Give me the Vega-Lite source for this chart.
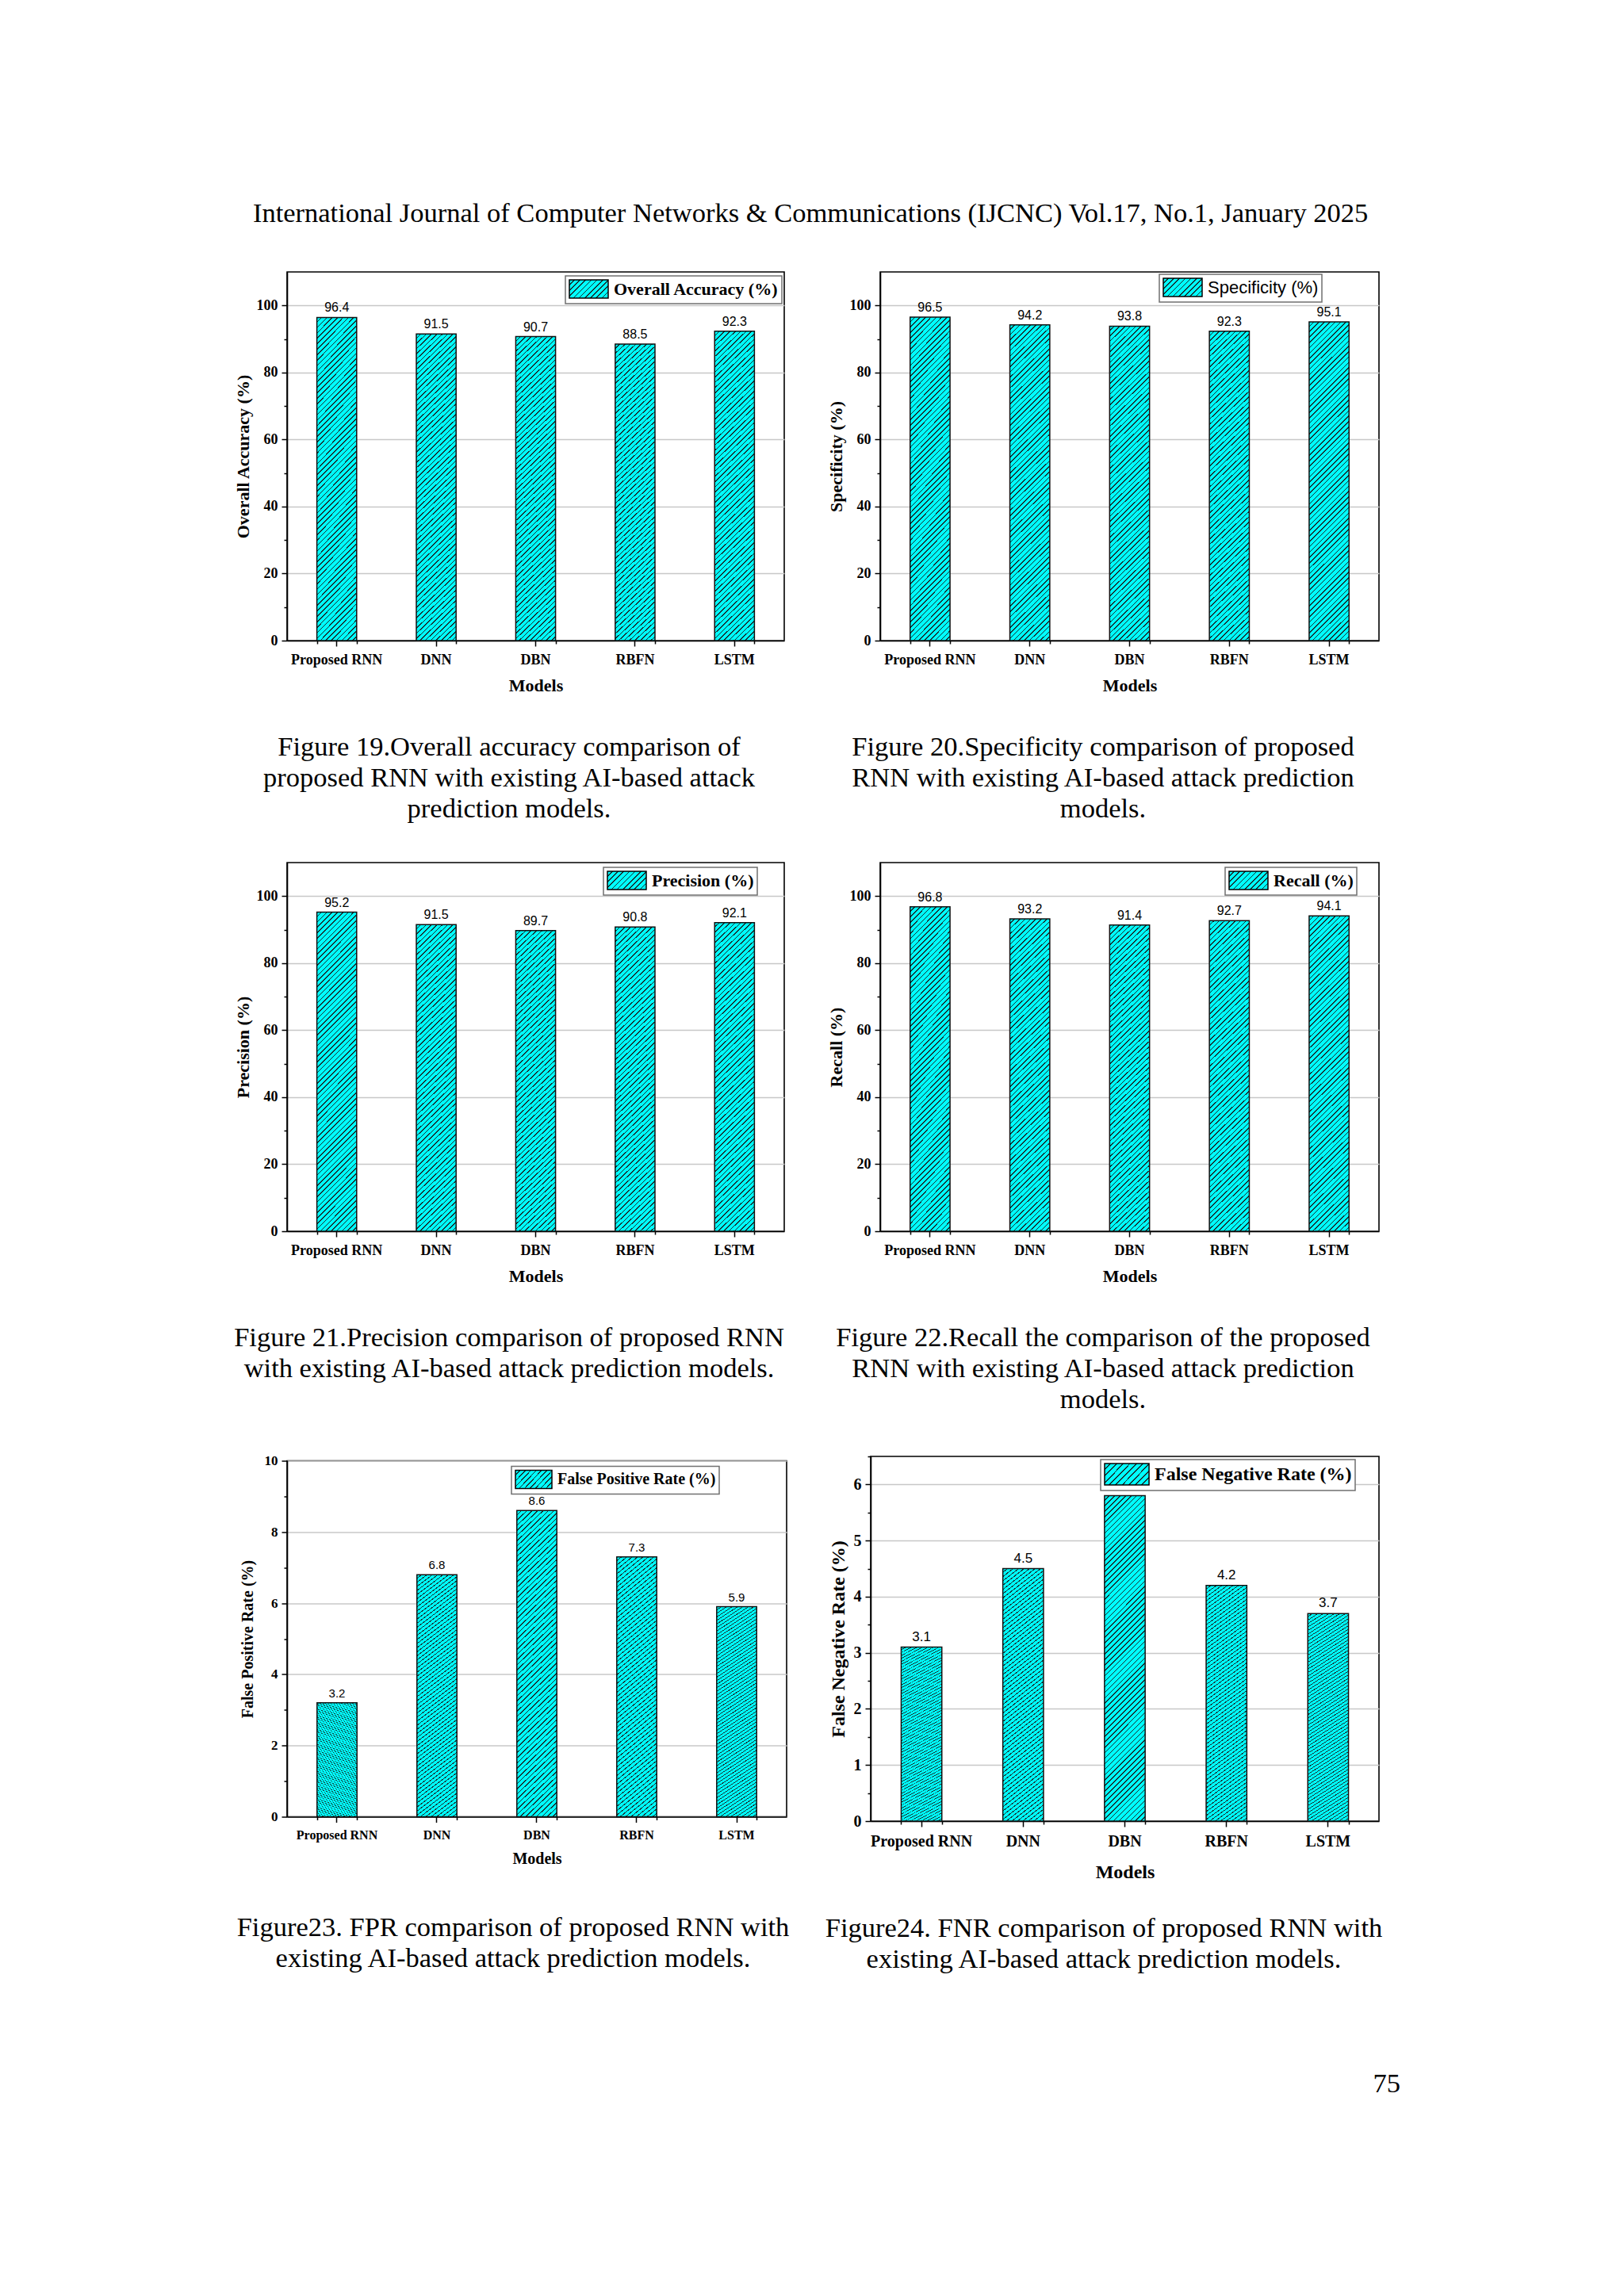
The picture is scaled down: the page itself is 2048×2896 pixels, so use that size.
{
  "$schema": "https://vega.github.io/schema/vega-lite/v6.json",
  "background": "#ffffff",
  "padding": {"left": 294, "top": 251, "right": 20, "bottom": 20},
  "title": {"text": "International Journal of Computer Networks & Communications (IJCNC) Vol.17, No.1, January 2025", "anchor": "middle", "offset": 55, "dx": -8},
  "datasets": {
    "acc": [{"model": "Proposed RNN", "value": 96.4}, {"model": "DNN", "value": 91.5}, {"model": "DBN", "value": 90.7}, {"model": "RBFN", "value": 88.5}, {"model": "LSTM", "value": 92.3}],
    "spe": [{"model": "Proposed RNN", "value": 96.5}, {"model": "DNN", "value": 94.2}, {"model": "DBN", "value": 93.8}, {"model": "RBFN", "value": 92.3}, {"model": "LSTM", "value": 95.1}],
    "pre": [{"model": "Proposed RNN", "value": 95.2}, {"model": "DNN", "value": 91.5}, {"model": "DBN", "value": 89.7}, {"model": "RBFN", "value": 90.8}, {"model": "LSTM", "value": 92.1}],
    "rec": [{"model": "Proposed RNN", "value": 96.8}, {"model": "DNN", "value": 93.2}, {"model": "DBN", "value": 91.4}, {"model": "RBFN", "value": 92.7}, {"model": "LSTM", "value": 94.1}],
    "fpr": [{"model": "Proposed RNN", "value": 3.2}, {"model": "DNN", "value": 6.8}, {"model": "DBN", "value": 8.6}, {"model": "RBFN", "value": 7.3}, {"model": "LSTM", "value": 5.9}],
    "fnr": [{"model": "Proposed RNN", "value": 3.1}, {"model": "DNN", "value": 4.5}, {"model": "DBN", "value": 5.8}, {"model": "RBFN", "value": 4.2}, {"model": "LSTM", "value": 3.7}]
  },
  "config": {
    "view": {"stroke": "#000000", "strokeWidth": 1.6},
    "title": {"font": "Liberation Serif", "fontSize": 34.5, "fontWeight": "normal", "color": "#000000", "lineHeight": 39},
    "axis": {"domainColor": "#000000", "domainWidth": 1.6, "tickColor": "#000000", "tickWidth": 1.5, "tickSize": 7, "labelColor": "#000000", "titleColor": "#000000", "labelFont": "Liberation Serif", "labelFontWeight": "bold", "titleFont": "Liberation Serif", "titleFontWeight": "bold"},
    "axisX": {"grid": false, "labelAngle": 0, "labelPadding": 8},
    "axisY": {"grid": true, "gridColor": "#c8c8c8", "gridWidth": 1.5, "labelPadding": 5},
    "legend": {"orient": "none", "padding": 4, "strokeColor": "#707070", "strokeWidth": 1.5, "fillColor": "#ffffff", "labelColor": "#000000", "labelLimit": 0, "symbolStrokeColor": "#000000", "symbolStrokeWidth": 1.5, "symbolOpacity": 1},
    "bar": {"stroke": "#111111", "strokeWidth": 1.5, "fill": {"gradient": "linear", "x1": 0, "y1": 0, "x2": 0.1385, "y2": 1.1077, "stops": [
      {"offset":0,"color":"#00ffff"},{"offset":0.0115,"color":"#00ffff"},{"offset":0.0115,"color":"#183030"},{"offset":0.015,"color":"#183030"},
      {"offset":0.015,"color":"#00ffff"},{"offset":0.0265,"color":"#00ffff"},{"offset":0.0265,"color":"#183030"},{"offset":0.03,"color":"#183030"},
      {"offset":0.03,"color":"#00ffff"},{"offset":0.0415,"color":"#00ffff"},{"offset":0.0415,"color":"#183030"},{"offset":0.045,"color":"#183030"},
      {"offset":0.045,"color":"#00ffff"},{"offset":0.0565,"color":"#00ffff"},{"offset":0.0565,"color":"#183030"},{"offset":0.06,"color":"#183030"},
      {"offset":0.06,"color":"#00ffff"},{"offset":0.0715,"color":"#00ffff"},{"offset":0.0715,"color":"#183030"},{"offset":0.075,"color":"#183030"},
      {"offset":0.075,"color":"#00ffff"},{"offset":0.0865,"color":"#00ffff"},{"offset":0.0865,"color":"#183030"},{"offset":0.09,"color":"#183030"},
      {"offset":0.09,"color":"#00ffff"},{"offset":0.1015,"color":"#00ffff"},{"offset":0.1015,"color":"#183030"},{"offset":0.105,"color":"#183030"},
      {"offset":0.105,"color":"#00ffff"},{"offset":0.1165,"color":"#00ffff"},{"offset":0.1165,"color":"#183030"},{"offset":0.12,"color":"#183030"},
      {"offset":0.12,"color":"#00ffff"},{"offset":0.1315,"color":"#00ffff"},{"offset":0.1315,"color":"#183030"},{"offset":0.135,"color":"#183030"},
      {"offset":0.135,"color":"#00ffff"},{"offset":0.1465,"color":"#00ffff"},{"offset":0.1465,"color":"#183030"},{"offset":0.15,"color":"#183030"},
      {"offset":0.15,"color":"#00ffff"},{"offset":0.1615,"color":"#00ffff"},{"offset":0.1615,"color":"#183030"},{"offset":0.165,"color":"#183030"},
      {"offset":0.165,"color":"#00ffff"},{"offset":0.1765,"color":"#00ffff"},{"offset":0.1765,"color":"#183030"},{"offset":0.18,"color":"#183030"},
      {"offset":0.18,"color":"#00ffff"},{"offset":0.1915,"color":"#00ffff"},{"offset":0.1915,"color":"#183030"},{"offset":0.195,"color":"#183030"},
      {"offset":0.195,"color":"#00ffff"},{"offset":0.2065,"color":"#00ffff"},{"offset":0.2065,"color":"#183030"},{"offset":0.21,"color":"#183030"},
      {"offset":0.21,"color":"#00ffff"},{"offset":0.2215,"color":"#00ffff"},{"offset":0.2215,"color":"#183030"},{"offset":0.225,"color":"#183030"},
      {"offset":0.225,"color":"#00ffff"},{"offset":0.2365,"color":"#00ffff"},{"offset":0.2365,"color":"#183030"},{"offset":0.24,"color":"#183030"},
      {"offset":0.24,"color":"#00ffff"},{"offset":0.2515,"color":"#00ffff"},{"offset":0.2515,"color":"#183030"},{"offset":0.255,"color":"#183030"},
      {"offset":0.255,"color":"#00ffff"},{"offset":0.2665,"color":"#00ffff"},{"offset":0.2665,"color":"#183030"},{"offset":0.27,"color":"#183030"},
      {"offset":0.27,"color":"#00ffff"},{"offset":0.2815,"color":"#00ffff"},{"offset":0.2815,"color":"#183030"},{"offset":0.285,"color":"#183030"},
      {"offset":0.285,"color":"#00ffff"},{"offset":0.2965,"color":"#00ffff"},{"offset":0.2965,"color":"#183030"},{"offset":0.3,"color":"#183030"},
      {"offset":0.3,"color":"#00ffff"},{"offset":0.3115,"color":"#00ffff"},{"offset":0.3115,"color":"#183030"},{"offset":0.315,"color":"#183030"},
      {"offset":0.315,"color":"#00ffff"},{"offset":0.3265,"color":"#00ffff"},{"offset":0.3265,"color":"#183030"},{"offset":0.33,"color":"#183030"},
      {"offset":0.33,"color":"#00ffff"},{"offset":0.3415,"color":"#00ffff"},{"offset":0.3415,"color":"#183030"},{"offset":0.345,"color":"#183030"},
      {"offset":0.345,"color":"#00ffff"},{"offset":0.3565,"color":"#00ffff"},{"offset":0.3565,"color":"#183030"},{"offset":0.36,"color":"#183030"},
      {"offset":0.36,"color":"#00ffff"},{"offset":0.3715,"color":"#00ffff"},{"offset":0.3715,"color":"#183030"},{"offset":0.375,"color":"#183030"},
      {"offset":0.375,"color":"#00ffff"},{"offset":0.3865,"color":"#00ffff"},{"offset":0.3865,"color":"#183030"},{"offset":0.39,"color":"#183030"},
      {"offset":0.39,"color":"#00ffff"},{"offset":0.4015,"color":"#00ffff"},{"offset":0.4015,"color":"#183030"},{"offset":0.405,"color":"#183030"},
      {"offset":0.405,"color":"#00ffff"},{"offset":0.4165,"color":"#00ffff"},{"offset":0.4165,"color":"#183030"},{"offset":0.42,"color":"#183030"},
      {"offset":0.42,"color":"#00ffff"},{"offset":0.4315,"color":"#00ffff"},{"offset":0.4315,"color":"#183030"},{"offset":0.435,"color":"#183030"},
      {"offset":0.435,"color":"#00ffff"},{"offset":0.4465,"color":"#00ffff"},{"offset":0.4465,"color":"#183030"},{"offset":0.45,"color":"#183030"},
      {"offset":0.45,"color":"#00ffff"},{"offset":0.4615,"color":"#00ffff"},{"offset":0.4615,"color":"#183030"},{"offset":0.465,"color":"#183030"},
      {"offset":0.465,"color":"#00ffff"},{"offset":0.4765,"color":"#00ffff"},{"offset":0.4765,"color":"#183030"},{"offset":0.48,"color":"#183030"},
      {"offset":0.48,"color":"#00ffff"},{"offset":0.4915,"color":"#00ffff"},{"offset":0.4915,"color":"#183030"},{"offset":0.495,"color":"#183030"},
      {"offset":0.495,"color":"#00ffff"},{"offset":0.5065,"color":"#00ffff"},{"offset":0.5065,"color":"#183030"},{"offset":0.51,"color":"#183030"},
      {"offset":0.51,"color":"#00ffff"},{"offset":0.5215,"color":"#00ffff"},{"offset":0.5215,"color":"#183030"},{"offset":0.525,"color":"#183030"},
      {"offset":0.525,"color":"#00ffff"},{"offset":0.5365,"color":"#00ffff"},{"offset":0.5365,"color":"#183030"},{"offset":0.54,"color":"#183030"},
      {"offset":0.54,"color":"#00ffff"},{"offset":0.5515,"color":"#00ffff"},{"offset":0.5515,"color":"#183030"},{"offset":0.555,"color":"#183030"},
      {"offset":0.555,"color":"#00ffff"},{"offset":0.5665,"color":"#00ffff"},{"offset":0.5665,"color":"#183030"},{"offset":0.57,"color":"#183030"},
      {"offset":0.57,"color":"#00ffff"},{"offset":0.5815,"color":"#00ffff"},{"offset":0.5815,"color":"#183030"},{"offset":0.585,"color":"#183030"},
      {"offset":0.585,"color":"#00ffff"},{"offset":0.5965,"color":"#00ffff"},{"offset":0.5965,"color":"#183030"},{"offset":0.6,"color":"#183030"},
      {"offset":0.6,"color":"#00ffff"},{"offset":0.6115,"color":"#00ffff"},{"offset":0.6115,"color":"#183030"},{"offset":0.615,"color":"#183030"},
      {"offset":0.615,"color":"#00ffff"},{"offset":0.6265,"color":"#00ffff"},{"offset":0.6265,"color":"#183030"},{"offset":0.63,"color":"#183030"},
      {"offset":0.63,"color":"#00ffff"},{"offset":0.6415,"color":"#00ffff"},{"offset":0.6415,"color":"#183030"},{"offset":0.645,"color":"#183030"},
      {"offset":0.645,"color":"#00ffff"},{"offset":0.6565,"color":"#00ffff"},{"offset":0.6565,"color":"#183030"},{"offset":0.66,"color":"#183030"},
      {"offset":0.66,"color":"#00ffff"},{"offset":0.6715,"color":"#00ffff"},{"offset":0.6715,"color":"#183030"},{"offset":0.675,"color":"#183030"},
      {"offset":0.675,"color":"#00ffff"},{"offset":0.6865,"color":"#00ffff"},{"offset":0.6865,"color":"#183030"},{"offset":0.69,"color":"#183030"},
      {"offset":0.69,"color":"#00ffff"},{"offset":0.7015,"color":"#00ffff"},{"offset":0.7015,"color":"#183030"},{"offset":0.705,"color":"#183030"},
      {"offset":0.705,"color":"#00ffff"},{"offset":0.7165,"color":"#00ffff"},{"offset":0.7165,"color":"#183030"},{"offset":0.72,"color":"#183030"},
      {"offset":0.72,"color":"#00ffff"},{"offset":0.7315,"color":"#00ffff"},{"offset":0.7315,"color":"#183030"},{"offset":0.735,"color":"#183030"},
      {"offset":0.735,"color":"#00ffff"},{"offset":0.7465,"color":"#00ffff"},{"offset":0.7465,"color":"#183030"},{"offset":0.75,"color":"#183030"},
      {"offset":0.75,"color":"#00ffff"},{"offset":0.7615,"color":"#00ffff"},{"offset":0.7615,"color":"#183030"},{"offset":0.765,"color":"#183030"},
      {"offset":0.765,"color":"#00ffff"},{"offset":0.7765,"color":"#00ffff"},{"offset":0.7765,"color":"#183030"},{"offset":0.78,"color":"#183030"},
      {"offset":0.78,"color":"#00ffff"},{"offset":0.7915,"color":"#00ffff"},{"offset":0.7915,"color":"#183030"},{"offset":0.795,"color":"#183030"},
      {"offset":0.795,"color":"#00ffff"},{"offset":0.8065,"color":"#00ffff"},{"offset":0.8065,"color":"#183030"},{"offset":0.81,"color":"#183030"},
      {"offset":0.81,"color":"#00ffff"},{"offset":0.8215,"color":"#00ffff"},{"offset":0.8215,"color":"#183030"},{"offset":0.825,"color":"#183030"},
      {"offset":0.825,"color":"#00ffff"},{"offset":0.8365,"color":"#00ffff"},{"offset":0.8365,"color":"#183030"},{"offset":0.84,"color":"#183030"},
      {"offset":0.84,"color":"#00ffff"},{"offset":0.8515,"color":"#00ffff"},{"offset":0.8515,"color":"#183030"},{"offset":0.855,"color":"#183030"},
      {"offset":0.855,"color":"#00ffff"},{"offset":0.8665,"color":"#00ffff"},{"offset":0.8665,"color":"#183030"},{"offset":0.87,"color":"#183030"},
      {"offset":0.87,"color":"#00ffff"},{"offset":0.8815,"color":"#00ffff"},{"offset":0.8815,"color":"#183030"},{"offset":0.885,"color":"#183030"},
      {"offset":0.885,"color":"#00ffff"},{"offset":0.8965,"color":"#00ffff"},{"offset":0.8965,"color":"#183030"},{"offset":0.9,"color":"#183030"},
      {"offset":0.9,"color":"#00ffff"},{"offset":0.9115,"color":"#00ffff"},{"offset":0.9115,"color":"#183030"},{"offset":0.915,"color":"#183030"},
      {"offset":0.915,"color":"#00ffff"},{"offset":0.9265,"color":"#00ffff"},{"offset":0.9265,"color":"#183030"},{"offset":0.93,"color":"#183030"},
      {"offset":0.93,"color":"#00ffff"},{"offset":0.9415,"color":"#00ffff"},{"offset":0.9415,"color":"#183030"},{"offset":0.945,"color":"#183030"},
      {"offset":0.945,"color":"#00ffff"},{"offset":0.9565,"color":"#00ffff"},{"offset":0.9565,"color":"#183030"},{"offset":0.96,"color":"#183030"},
      {"offset":0.96,"color":"#00ffff"},{"offset":0.9715,"color":"#00ffff"},{"offset":0.9715,"color":"#183030"},{"offset":0.975,"color":"#183030"},
      {"offset":0.975,"color":"#00ffff"},{"offset":0.9865,"color":"#00ffff"},{"offset":0.9865,"color":"#183030"},{"offset":0.99,"color":"#183030"},
      {"offset":0.99,"color":"#00ffff"},{"offset":1,"color":"#00ffff"}
    ]}},
    "rect": {"strokeWidth": 1.5, "fill": {"gradient": "linear", "x1": 0, "y1": 0, "x2": 1.204, "y2": 0.5653, "stops": [
      {"offset":0,"color":"#00ffff"},{"offset":0.077,"color":"#00ffff"},{"offset":0.077,"color":"#183030"},{"offset":0.1,"color":"#183030"},
      {"offset":0.1,"color":"#00ffff"},{"offset":0.177,"color":"#00ffff"},{"offset":0.177,"color":"#183030"},{"offset":0.2,"color":"#183030"},
      {"offset":0.2,"color":"#00ffff"},{"offset":0.277,"color":"#00ffff"},{"offset":0.277,"color":"#183030"},{"offset":0.3,"color":"#183030"},
      {"offset":0.3,"color":"#00ffff"},{"offset":0.377,"color":"#00ffff"},{"offset":0.377,"color":"#183030"},{"offset":0.4,"color":"#183030"},
      {"offset":0.4,"color":"#00ffff"},{"offset":0.477,"color":"#00ffff"},{"offset":0.477,"color":"#183030"},{"offset":0.5,"color":"#183030"},
      {"offset":0.5,"color":"#00ffff"},{"offset":0.577,"color":"#00ffff"},{"offset":0.577,"color":"#183030"},{"offset":0.6,"color":"#183030"},
      {"offset":0.6,"color":"#00ffff"},{"offset":0.677,"color":"#00ffff"},{"offset":0.677,"color":"#183030"},{"offset":0.7,"color":"#183030"},
      {"offset":0.7,"color":"#00ffff"},{"offset":0.777,"color":"#00ffff"},{"offset":0.777,"color":"#183030"},{"offset":0.8,"color":"#183030"},
      {"offset":0.8,"color":"#00ffff"},{"offset":0.877,"color":"#00ffff"},{"offset":0.877,"color":"#183030"},{"offset":0.9,"color":"#183030"},
      {"offset":0.9,"color":"#00ffff"},{"offset":0.977,"color":"#00ffff"},{"offset":0.977,"color":"#183030"},{"offset":1,"color":"#183030"}
    ]}}
  },
  "spacing": 48,
  "resolve": {"scale": {"stroke": "independent"}, "legend": {"stroke": "independent"}},
  "vconcat": [
    {
      "bounds": "flush",
      "spacing": 121,
      "resolve": {"scale": {"stroke": "independent"}, "legend": {"stroke": "independent"}},
      "hconcat": [
        {
          "width": 627, "height": 465,
          "title": {"text": ["Figure 19.Overall accuracy comparison of", "proposed RNN with existing AI-based attack", "prediction models."], "orient": "bottom", "anchor": "middle", "frame": "bounds", "offset": 51},
          "data": {"name": "acc"},
          "resolve": {"axis": {"x": "independent", "y": "independent"}},
          "encoding": {
            "x": {"field": "model", "type": "nominal", "sort": null, "scale": {"paddingInner": 0.6, "paddingOuter": 0.3}, "axis": {"title": "Models", "labelFontSize": 18, "titleFontSize": 22, "titlePadding": 13}},
            "y": {"field": "value", "type": "quantitative", "scale": {"domain": [0, 110], "nice": false}, "axis": {"title": "Overall Accuracy (%)", "values": [0, 20, 40, 60, 80, 100], "labelFontSize": 18, "titleFontSize": 22, "titlePadding": 5}}
          },
          "layer": [
            {"mark": {"type": "bar"}},
            {"mark": {"type": "text", "baseline": "bottom", "dy": -4, "font": "Liberation Sans", "fontSize": 16, "color": "#000000"}, "encoding": {"x": {"field": "model", "type": "nominal", "sort": null, "axis": null}, "y": {"field": "value", "type": "quantitative", "axis": null}, "text": {"field": "value", "type": "quantitative", "format": ".1f"}}},
            {"transform": [{"filter": "false"}], "mark": {"type": "rect"}, "encoding": {"x": {"field": "model", "type": "nominal", "sort": null, "axis": null}, "y": {"field": "value", "type": "quantitative", "axis": null}, "stroke": {"datum": "Overall Accuracy (%)", "type": "nominal", "scale": {"range": ["#000000"]}, "legend": {"title": null, "legendX": 351, "legendY": 5, "symbolType": "M-1,-1H3.26V1H-1Z", "symbolSize": 529, "labelOffset": 32, "labelFont": "Liberation Serif", "labelFontWeight": "bold", "labelFontSize": 22}}}},
            {"transform": [{"filter": "false"}], "mark": {"type": "point"}, "encoding": {"x": {"field": "model", "type": "nominal", "sort": null, "axis": {"orient": "bottom", "tickBand": "extent", "tickSize": 4, "labels": false, "domain": false, "title": null, "grid": false}}, "y": {"field": "value", "type": "quantitative", "axis": {"orient": "left", "values": [10, 30, 50, 70, 90], "tickSize": 4, "labels": false, "domain": false, "title": null, "grid": false}}}}
          ]
        },
        {
          "width": 629, "height": 465,
          "title": {"text": ["Figure 20.Specificity comparison of proposed", "RNN with existing AI-based attack prediction", "models."], "orient": "bottom", "anchor": "middle", "frame": "bounds", "offset": 51},
          "data": {"name": "spe"},
          "resolve": {"axis": {"x": "independent", "y": "independent"}},
          "encoding": {
            "x": {"field": "model", "type": "nominal", "sort": null, "scale": {"paddingInner": 0.6, "paddingOuter": 0.3}, "axis": {"title": "Models", "labelFontSize": 18, "titleFontSize": 22, "titlePadding": 13}},
            "y": {"field": "value", "type": "quantitative", "scale": {"domain": [0, 110], "nice": false}, "axis": {"title": "Specificity (%)", "values": [0, 20, 40, 60, 80, 100], "labelFontSize": 18, "titleFontSize": 22, "titlePadding": 5}}
          },
          "layer": [
            {"mark": {"type": "bar"}},
            {"mark": {"type": "text", "baseline": "bottom", "dy": -4, "font": "Liberation Sans", "fontSize": 16, "color": "#000000"}, "encoding": {"x": {"field": "model", "type": "nominal", "sort": null, "axis": null}, "y": {"field": "value", "type": "quantitative", "axis": null}, "text": {"field": "value", "type": "quantitative", "format": ".1f"}}},
            {"transform": [{"filter": "false"}], "mark": {"type": "rect"}, "encoding": {"x": {"field": "model", "type": "nominal", "sort": null, "axis": null}, "y": {"field": "value", "type": "quantitative", "axis": null}, "stroke": {"datum": "Specificity (%)", "type": "nominal", "scale": {"range": ["#000000"]}, "legend": {"title": null, "legendX": 352, "legendY": 3, "symbolType": "M-1,-1H3.26V1H-1Z", "symbolSize": 529, "labelOffset": 32, "labelFont": "Liberation Sans", "labelFontWeight": "normal", "labelFontSize": 22}}}},
            {"transform": [{"filter": "false"}], "mark": {"type": "point"}, "encoding": {"x": {"field": "model", "type": "nominal", "sort": null, "axis": {"orient": "bottom", "tickBand": "extent", "tickSize": 4, "labels": false, "domain": false, "title": null, "grid": false}}, "y": {"field": "value", "type": "quantitative", "axis": {"orient": "left", "values": [10, 30, 50, 70, 90], "tickSize": 4, "labels": false, "domain": false, "title": null, "grid": false}}}}
          ]
        }
      ]
    },
    {
      "bounds": "flush",
      "spacing": 121,
      "resolve": {"scale": {"stroke": "independent"}, "legend": {"stroke": "independent"}},
      "hconcat": [
        {
          "width": 627, "height": 465,
          "title": {"text": ["Figure 21.Precision comparison of proposed RNN", "with existing AI-based attack prediction models."], "orient": "bottom", "anchor": "middle", "frame": "bounds", "offset": 51},
          "data": {"name": "pre"},
          "resolve": {"axis": {"x": "independent", "y": "independent"}},
          "encoding": {
            "x": {"field": "model", "type": "nominal", "sort": null, "scale": {"paddingInner": 0.6, "paddingOuter": 0.3}, "axis": {"title": "Models", "labelFontSize": 18, "titleFontSize": 22, "titlePadding": 13}},
            "y": {"field": "value", "type": "quantitative", "scale": {"domain": [0, 110], "nice": false}, "axis": {"title": "Precision (%)", "values": [0, 20, 40, 60, 80, 100], "labelFontSize": 18, "titleFontSize": 22, "titlePadding": 5}}
          },
          "layer": [
            {"mark": {"type": "bar"}},
            {"mark": {"type": "text", "baseline": "bottom", "dy": -4, "font": "Liberation Sans", "fontSize": 16, "color": "#000000"}, "encoding": {"x": {"field": "model", "type": "nominal", "sort": null, "axis": null}, "y": {"field": "value", "type": "quantitative", "axis": null}, "text": {"field": "value", "type": "quantitative", "format": ".1f"}}},
            {"transform": [{"filter": "false"}], "mark": {"type": "rect"}, "encoding": {"x": {"field": "model", "type": "nominal", "sort": null, "axis": null}, "y": {"field": "value", "type": "quantitative", "axis": null}, "stroke": {"datum": "Precision (%)", "type": "nominal", "scale": {"range": ["#000000"]}, "legend": {"title": null, "legendX": 399, "legendY": 6, "symbolType": "M-1,-1H3.26V1H-1Z", "symbolSize": 529, "labelOffset": 32, "labelFont": "Liberation Serif", "labelFontWeight": "bold", "labelFontSize": 22}}}},
            {"transform": [{"filter": "false"}], "mark": {"type": "point"}, "encoding": {"x": {"field": "model", "type": "nominal", "sort": null, "axis": {"orient": "bottom", "tickBand": "extent", "tickSize": 4, "labels": false, "domain": false, "title": null, "grid": false}}, "y": {"field": "value", "type": "quantitative", "axis": {"orient": "left", "values": [10, 30, 50, 70, 90], "tickSize": 4, "labels": false, "domain": false, "title": null, "grid": false}}}}
          ]
        },
        {
          "width": 629, "height": 465,
          "title": {"text": ["Figure 22.Recall the comparison of the proposed", "RNN with existing AI-based attack prediction", "models."], "orient": "bottom", "anchor": "middle", "frame": "bounds", "offset": 51},
          "data": {"name": "rec"},
          "resolve": {"axis": {"x": "independent", "y": "independent"}},
          "encoding": {
            "x": {"field": "model", "type": "nominal", "sort": null, "scale": {"paddingInner": 0.6, "paddingOuter": 0.3}, "axis": {"title": "Models", "labelFontSize": 18, "titleFontSize": 22, "titlePadding": 13}},
            "y": {"field": "value", "type": "quantitative", "scale": {"domain": [0, 110], "nice": false}, "axis": {"title": "Recall (%)", "values": [0, 20, 40, 60, 80, 100], "labelFontSize": 18, "titleFontSize": 22, "titlePadding": 5}}
          },
          "layer": [
            {"mark": {"type": "bar"}},
            {"mark": {"type": "text", "baseline": "bottom", "dy": -4, "font": "Liberation Sans", "fontSize": 16, "color": "#000000"}, "encoding": {"x": {"field": "model", "type": "nominal", "sort": null, "axis": null}, "y": {"field": "value", "type": "quantitative", "axis": null}, "text": {"field": "value", "type": "quantitative", "format": ".1f"}}},
            {"transform": [{"filter": "false"}], "mark": {"type": "rect"}, "encoding": {"x": {"field": "model", "type": "nominal", "sort": null, "axis": null}, "y": {"field": "value", "type": "quantitative", "axis": null}, "stroke": {"datum": "Recall (%)", "type": "nominal", "scale": {"range": ["#000000"]}, "legend": {"title": null, "legendX": 435, "legendY": 6, "symbolType": "M-1,-1H3.26V1H-1Z", "symbolSize": 529, "labelOffset": 32, "labelFont": "Liberation Serif", "labelFontWeight": "bold", "labelFontSize": 22}}}},
            {"transform": [{"filter": "false"}], "mark": {"type": "point"}, "encoding": {"x": {"field": "model", "type": "nominal", "sort": null, "axis": {"orient": "bottom", "tickBand": "extent", "tickSize": 4, "labels": false, "domain": false, "title": null, "grid": false}}, "y": {"field": "value", "type": "quantitative", "axis": {"orient": "left", "values": [10, 30, 50, 70, 90], "tickSize": 4, "labels": false, "domain": false, "title": null, "grid": false}}}}
          ]
        }
      ]
    },
    {
      "bounds": "flush",
      "center": true,
      "spacing": 106,
      "resolve": {"scale": {"stroke": "independent"}, "legend": {"stroke": "independent"}},
      "title": {"text": "75", "orient": "bottom", "anchor": "end", "offset": 123, "dx": 22},
      "hconcat": [
        {
          "width": 630, "height": 449,
          "title": {"text": ["Figure23. FPR comparison of proposed RNN with", "existing AI-based attack prediction models."], "orient": "bottom", "anchor": "middle", "frame": "bounds", "offset": 60},
          "data": {"name": "fpr"},
          "resolve": {"axis": {"x": "independent", "y": "independent"}},
          "encoding": {
            "x": {"field": "model", "type": "nominal", "sort": null, "scale": {"paddingInner": 0.6, "paddingOuter": 0.3}, "axis": {"title": "Models", "labelFontSize": 16, "titleFontSize": 20, "titlePadding": 12}},
            "y": {"field": "value", "type": "quantitative", "scale": {"domain": [0, 10], "nice": false}, "axis": {"title": "False Positive Rate (%)", "values": [0, 2, 4, 6, 8, 10], "labelFontSize": 17, "titleFontSize": 20, "titlePadding": 11}}
          },
          "layer": [
            {"mark": {"type": "bar"}},
            {"mark": {"type": "text", "baseline": "bottom", "dy": -4, "font": "Liberation Sans", "fontSize": 15, "color": "#000000"}, "encoding": {"x": {"field": "model", "type": "nominal", "sort": null, "axis": null}, "y": {"field": "value", "type": "quantitative", "axis": null}, "text": {"field": "value", "type": "quantitative", "format": ".1f"}}},
            {"transform": [{"filter": "false"}], "mark": {"type": "rect"}, "encoding": {"x": {"field": "model", "type": "nominal", "sort": null, "axis": null}, "y": {"field": "value", "type": "quantitative", "axis": null}, "stroke": {"datum": "False Positive Rate (%)", "type": "nominal", "scale": {"range": ["#000000"]}, "legend": {"title": null, "legendX": 283, "legendY": 7, "symbolType": "M-1,-1H3V1H-1Z", "symbolSize": 529, "labelOffset": 29, "labelFont": "Liberation Serif", "labelFontWeight": "bold", "labelFontSize": 20}}}},
            {"transform": [{"filter": "false"}], "mark": {"type": "point"}, "encoding": {"x": {"field": "model", "type": "nominal", "sort": null, "axis": {"orient": "bottom", "tickBand": "extent", "tickSize": 4, "labels": false, "domain": false, "title": null, "grid": false}}, "y": {"field": "value", "type": "quantitative", "axis": {"orient": "left", "values": [1, 3, 5, 7, 9], "tickSize": 4, "labels": false, "domain": false, "title": null, "grid": false}}}}
          ]
        },
        {
          "width": 641, "height": 460,
          "title": {"text": ["Figure24. FNR comparison of proposed RNN with", "existing AI-based attack prediction models."], "orient": "bottom", "anchor": "middle", "frame": "bounds", "offset": 43},
          "data": {"name": "fnr"},
          "resolve": {"axis": {"x": "independent", "y": "independent"}},
          "encoding": {
            "x": {"field": "model", "type": "nominal", "sort": null, "scale": {"paddingInner": 0.6, "paddingOuter": 0.3}, "axis": {"title": "Models", "labelFontSize": 20, "titleFontSize": 24, "titlePadding": 17}},
            "y": {"field": "value", "type": "quantitative", "scale": {"domain": [0, 6.5], "nice": false}, "axis": {"title": "False Negative Rate (%)", "values": [0, 1, 2, 3, 4, 5, 6], "labelFontSize": 20, "titleFontSize": 24, "titlePadding": 7}}
          },
          "layer": [
            {"mark": {"type": "bar"}},
            {"mark": {"type": "text", "baseline": "bottom", "dy": -4, "font": "Liberation Sans", "fontSize": 17, "color": "#000000"}, "encoding": {"x": {"field": "model", "type": "nominal", "sort": null, "axis": null}, "y": {"field": "value", "type": "quantitative", "axis": null}, "text": {"field": "value", "type": "quantitative", "format": ".1f"}}},
            {"transform": [{"filter": "false"}], "mark": {"type": "rect"}, "encoding": {"x": {"field": "model", "type": "nominal", "sort": null, "axis": null}, "y": {"field": "value", "type": "quantitative", "axis": null}, "stroke": {"datum": "False Negative Rate (%)", "type": "nominal", "scale": {"range": ["#000000"]}, "legend": {"title": null, "legendX": 290, "legendY": 4, "symbolType": "M-1,-1H3.15V1H-1Z", "symbolSize": 729, "labelOffset": 35, "labelFont": "Liberation Serif", "labelFontWeight": "bold", "labelFontSize": 24}}}},
            {"transform": [{"filter": "false"}], "mark": {"type": "point"}, "encoding": {"x": {"field": "model", "type": "nominal", "sort": null, "axis": {"orient": "bottom", "tickBand": "extent", "tickSize": 4, "labels": false, "domain": false, "title": null, "grid": false}}, "y": {"field": "value", "type": "quantitative", "axis": {"orient": "left", "values": [0.5, 1.5, 2.5, 3.5, 4.5, 5.5, 6.5], "tickSize": 4, "labels": false, "domain": false, "title": null, "grid": false}}}}
          ]
        }
      ]
    }
  ]
}
